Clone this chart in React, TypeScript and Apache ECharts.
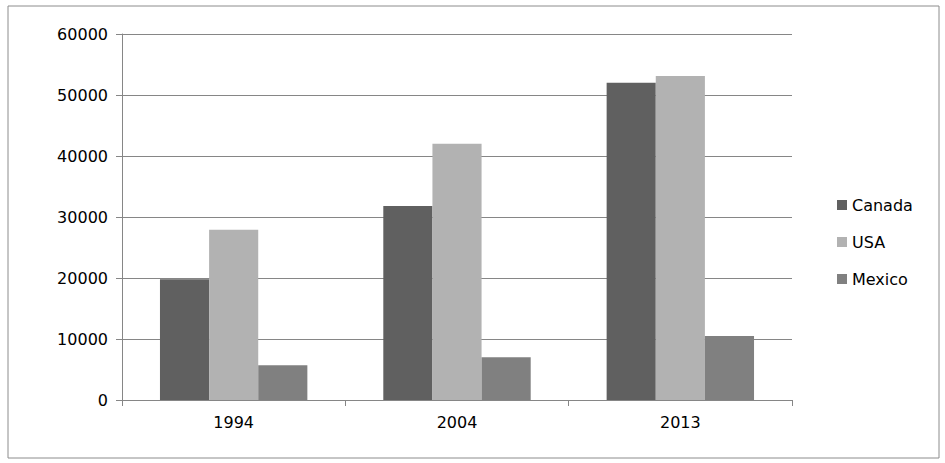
import { useEffect, useRef } from 'react';
import * as echarts from 'echarts';

const years = ['1994', '2004', '2013'];
const canada = [19800, 31800, 52000];
const usa = [27900, 42000, 53100];
const mexico = [5700, 7000, 10500];

export default function App() {
  const ref = useRef<HTMLDivElement>(null);

  useEffect(() => {
    document.body.style.margin = '0';
    if (!ref.current) return;
    const chart = echarts.init(ref.current, null, { renderer: 'svg' });
    const font = { fontFamily: 'DejaVu Sans', fontSize: 16, color: '#000' };
    chart.setOption({
      animation: false,
      graphic: [{
        type: 'rect', shape: { x: 8, y: 6, width: 931, height: 452 },
        style: { fill: 'none', stroke: '#8c8c8c', lineWidth: 1 },
      }],
      grid: { left: 122, right: 153, top: 34, bottom: 63 },
      legend: {
        orient: 'vertical', left: 832, top: 192, itemGap: 21,
        itemWidth: 10, itemHeight: 10, icon: 'rect',
        textStyle: font,
      },
      xAxis: {
        type: 'category', data: years,
        axisLine: { lineStyle: { color: '#868686' } },
        axisTick: { show: true, length: 6, lineStyle: { color: '#868686' } },
        axisLabel: { ...font, margin: 14 },
      },
      yAxis: {
        type: 'value', min: 0, max: 60000, interval: 10000,
        axisLine: { show: true, lineStyle: { color: '#868686' } },
        axisTick: { show: true, length: 6, lineStyle: { color: '#868686' } },
        splitLine: { lineStyle: { color: '#868686' } },
        axisLabel: { ...font, margin: 14, formatter: (v: number) => String(v) },
      },
      series: [
        { name: 'Canada', type: 'bar', data: canada, itemStyle: { color: '#606060' }, barGap: '0%', barCategoryGap: '34%' },
        { name: 'USA', type: 'bar', data: usa, itemStyle: { color: '#b2b2b2' } },
        { name: 'Mexico', type: 'bar', data: mexico, itemStyle: { color: '#808080' } },
      ],
    });
    return () => chart.dispose();
  }, []);

  return <div ref={ref} style={{ width: 945, height: 463, background: '#fff' }} />;
}
